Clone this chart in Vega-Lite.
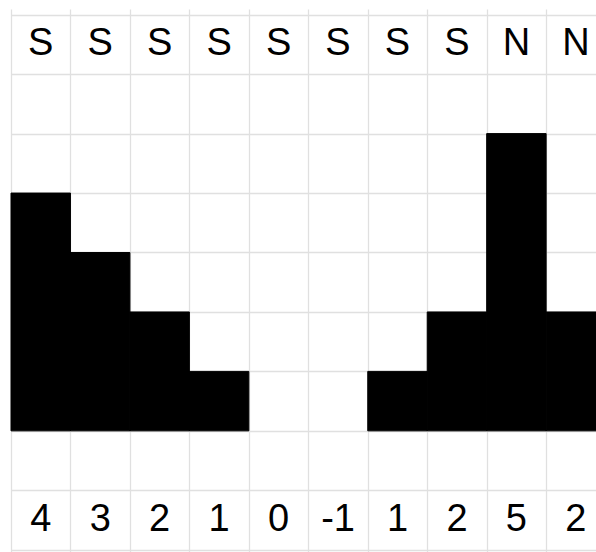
{
  "$schema": "https://vega.github.io/schema/vega-lite/v6.json",
  "width": 589,
  "height": 543,
  "padding": {"left": 7, "top": 9, "right": 0, "bottom": 0},
  "autosize": {"type": "none"},
  "background": "white",
  "config": {
    "view": {"stroke": null},
    "axis": {"labels": false, "ticks": false, "domain": false, "grid": true, "gridColor": "#e0e0e0", "gridWidth": 1.3}
  },
  "data": {
    "values": [
      {"col": 0, "dir": "S", "value": 4},
      {"col": 1, "dir": "S", "value": 3},
      {"col": 2, "dir": "S", "value": 2},
      {"col": 3, "dir": "S", "value": 1},
      {"col": 4, "dir": "S", "value": 0},
      {"col": 5, "dir": "S", "value": -1},
      {"col": 6, "dir": "S", "value": 1},
      {"col": 7, "dir": "S", "value": 2},
      {"col": 8, "dir": "N", "value": 5},
      {"col": 9, "dir": "N", "value": 2}
    ]
  },
  "encoding": {
    "x": {
      "field": "col",
      "type": "ordinal",
      "title": null,
      "scale": {"range": [4, 598.6], "paddingInner": 0, "paddingOuter": 0},
      "axis": {"orient": "top", "tickBand": "extent", "grid": true}
    }
  },
  "layer": [
    {
      "transform": [{"filter": "datum.value > 0"}],
      "mark": {"type": "bar", "color": "#000000", "stroke": "#000000", "strokeWidth": 1},
      "encoding": {
        "y": {
          "field": "value",
          "type": "quantitative",
          "title": null,
          "scale": {"domain": [-2.038, 7.096], "zero": false, "nice": false},
          "axis": {"values": [-2, -1, 0, 1, 2, 3, 4, 5, 6, 7], "grid": true}
        }
      }
    },
    {
      "mark": {"type": "text", "fontSize": 38, "font": "Liberation Sans", "baseline": "middle", "color": "#000000"},
      "encoding": {
        "y": {"datum": 6.5, "type": "quantitative", "title": null},
        "text": {"field": "dir", "type": "nominal"}
      }
    },
    {
      "mark": {"type": "text", "fontSize": 38, "font": "Liberation Sans", "baseline": "middle", "color": "#000000"},
      "encoding": {
        "y": {"datum": -1.5, "type": "quantitative", "title": null},
        "text": {"field": "value", "type": "nominal"}
      }
    }
  ]
}
